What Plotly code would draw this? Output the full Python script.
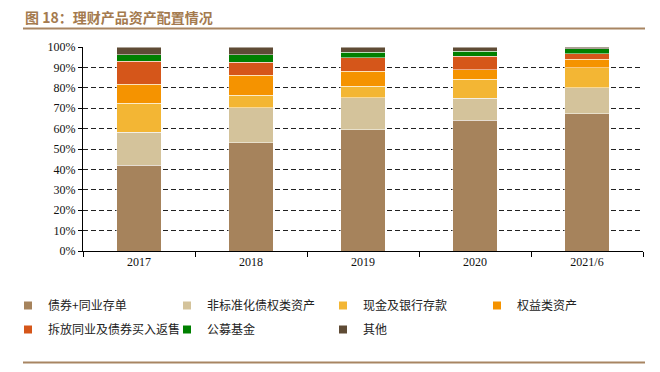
import plotly.graph_objects as go

categories = ["2017", "2018", "2019", "2020", "2021/6"]
series_names = ["债券+同业存单", "非标准化债权类资产", "现金及银行存款", "权益类资产",
                "拆放同业及债券买入返售", "公募基金", "其他"]
bond_cd = [42.0, 53.1, 59.5, 64.1, 67.2]
nonstandard = [16.3, 17.2, 15.7, 10.9, 12.9]
cash_deposit = [14.2, 6.0, 5.5, 9.2, 9.8]
equity = [9.2, 9.8, 7.5, 4.7, 4.1]
interbank_repo = [11.3, 6.5, 6.6, 6.5, 2.8]
public_fund = [3.3, 3.5, 2.7, 2.6, 2.4]
other = [3.7, 3.9, 2.5, 2.0, 0.8]
series_values = [bond_cd, nonstandard, cash_deposit, equity, interbank_repo, public_fund, other]
colors = ["#A6835C", "#D4C39B", "#F3B634", "#F59300", "#D5561A", "#008000", "#5F4B35"]
y_ticks = [0, 10, 20, 30, 40, 50, 60, 70, 80, 90, 100]

# the page body has an 8px margin, so figure coords = screen coords - 8
OFF = 8
W, H = 644, 356
L, T = 83 - OFF, 47 - OFF
R = W - (643 - OFF)
B = H - (251 - OFF)
pw, ph = W - L - R, H - T - B

def px_x(p):  # screen px -> paper x
    return (p - OFF - L) / pw

def px_y(p):  # screen px -> paper y
    return (H - B - (p - OFF)) / ph

# legend slot positions (screen text-start x, screen row center y)
legend_text_x = [48, 207, 363, 517, 48, 207, 363]
legend_row_y = [306, 306, 306, 306, 330, 330, 330]

fig = go.Figure()
legend_layout = {}
legend_font = dict(family="Noto Sans CJK SC", size=12, color="#222")
for i, (name, vals, col) in enumerate(zip(series_names, series_values, colors)):
    key = "legend" if i == 0 else f"legend{i + 1}"
    fig.add_trace(go.Bar(
        x=categories, y=vals, name=name,
        marker=dict(color=col, line=dict(color="rgba(255,255,255,0.6)", width=0.8)),
        width=0.4, showlegend=False,
    ))
    # legend proxy with a small square symbol
    fig.add_trace(go.Scatter(
        x=[None], y=[None], name=name, mode="markers",
        marker=dict(symbol="square", size=8, color=col),
        legend=key, showlegend=True, hoverinfo="skip",
    ))
    legend_layout[key] = dict(
        orientation="h", x=px_x(legend_text_x[i] - 40), y=px_y(legend_row_y[i] - 15),
        xanchor="left", yanchor="top", font=legend_font,
        bgcolor="rgba(0,0,0,0)", itemwidth=30,
    )

fig.update_layout(
    width=W, height=H,
    margin=dict(l=L, r=R, t=T, b=B, autoexpand=False),
    barmode="stack",
    showlegend=True,
    plot_bgcolor="white", paper_bgcolor="white",
    title=dict(text="<b>图 18：理财产品资产配置情况</b>", x=(25 - OFF) / W, y=1 - 10.5 / H,
               xanchor="left", yanchor="middle",
               font=dict(family="Noto Sans CJK SC", size=14, color="#A47A4E")),
    xaxis=dict(type="category", showline=True, linecolor="black", linewidth=1,
               ticks="outside", tickson="boundaries", ticklen=5, tickcolor="black",
               tickfont=dict(family="Liberation Serif", size=12, color="#111"),
               showgrid=False),
    yaxis=dict(range=[0, 100], tickvals=y_ticks, ticktext=[f"{v}%" for v in y_ticks],
               showline=True, linecolor="black", linewidth=1,
               ticks="outside", ticklen=4, tickcolor="black",
               tickfont=dict(family="Liberation Serif", size=12, color="#111"),
               showgrid=True, gridcolor="#222", gridwidth=1, griddash="5px,3px",
               zeroline=False),
    shapes=[
        dict(type="line", xref="paper", yref="paper", x0=px_x(23), x1=px_x(645),
             y0=px_y(28.5), y1=px_y(28.5), line=dict(color="#A88562", width=1.8)),
        dict(type="line", xref="paper", yref="paper", x0=px_x(23), x1=px_x(645),
             y0=px_y(362.5), y1=px_y(362.5), line=dict(color="#A88562", width=1.8)),
    ],
    **legend_layout,
)

fig.write_html("out.html")
